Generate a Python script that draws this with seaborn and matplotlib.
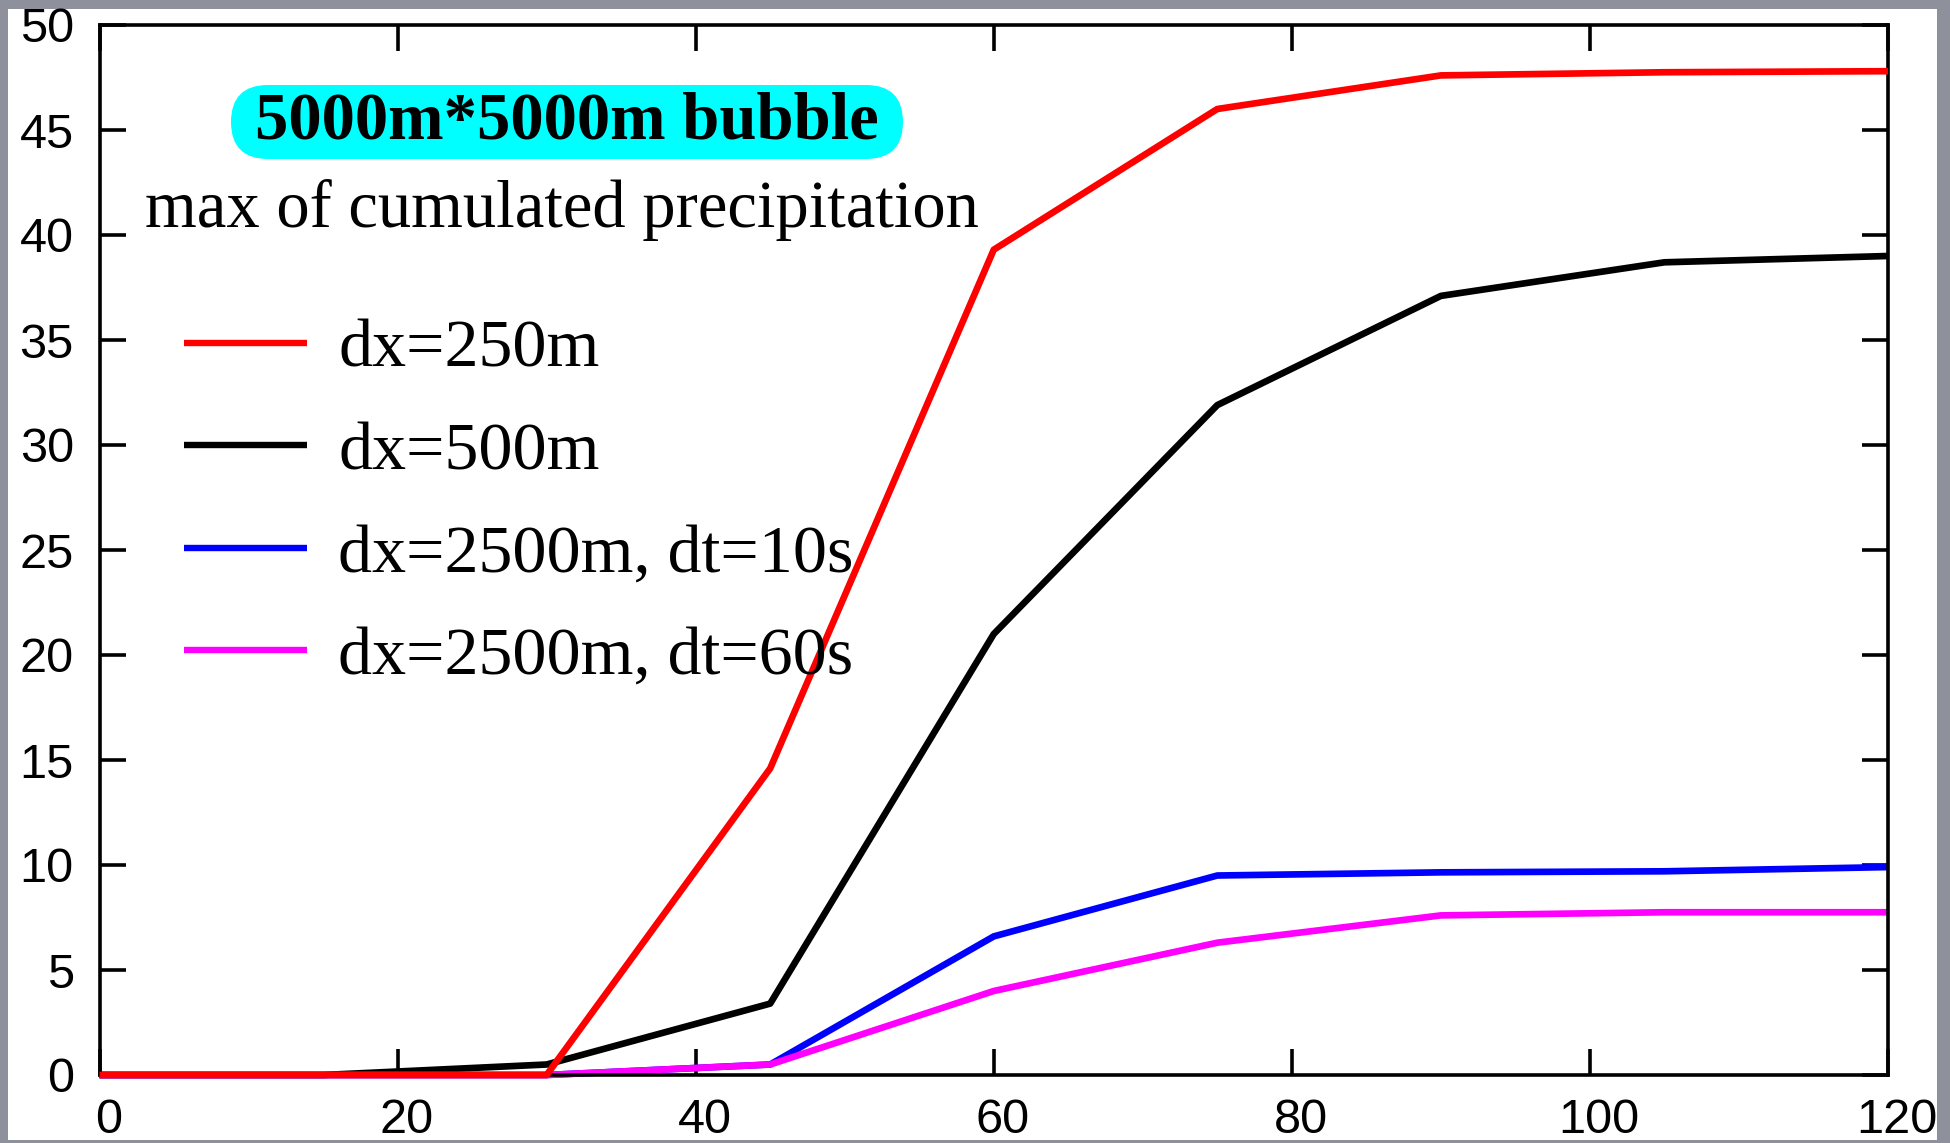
import matplotlib
matplotlib.use("Agg")
import matplotlib.pyplot as plt
from matplotlib.patches import FancyBboxPatch, Rectangle
from matplotlib.transforms import ScaledTranslation
import pandas as pd
import seaborn as sns

# time (minutes) and max of cumulated precipitation for each run
minutes = [0, 15, 30, 45, 60, 75, 90, 105, 120]
dx250 = [0, 0, 0, 14.6, 39.3, 46.0, 47.6, 47.75, 47.8]
dx500 = [0, 0, 0.5, 3.4, 21.0, 31.9, 37.1, 38.7, 39.0]
dx2500_dt10 = [0, 0, 0, 0.5, 6.6, 9.5, 9.65, 9.7, 9.9]
dx2500_dt60 = [0, 0, 0, 0.5, 4.0, 6.3, 7.6, 7.75, 7.75]

run_labels = ["dx=250m", "dx=500m", "dx=2500m, dt=10s", "dx=2500m, dt=60s"]
run_colors = ["#ff0000", "#000000", "#0000ff", "#ff00ff"]
x_ticks = list(range(0, 121, 20))
y_ticks = list(range(0, 51, 5))

W, H = 1950, 1143

# long form table for seaborn
frames = []
for label, values in zip(run_labels, [dx250, dx500, dx2500_dt10, dx2500_dt60]):
    frames.append(pd.DataFrame({"minutes": minutes, "precip": values, "run": label}))
df = pd.concat(frames, ignore_index=True)

sns.set_style("white")

fig = plt.figure(figsize=(W / 100, H / 100), dpi=100, facecolor="#8e919b")
# white sheet inside the grey screenshot border
fig.add_artist(Rectangle((8 / W, 3 / H), 1929 / W, 1131 / H, transform=fig.transFigure,
                         facecolor="white", edgecolor="none", zorder=-1))

ax = fig.add_axes([99.5 / W, 1 - 1075 / H, (1888 - 99.5) / W, (1075 - 25) / H])
ax.set_facecolor("white")

sns.lineplot(data=df, x="minutes", y="precip", hue="run", hue_order=run_labels,
             palette=run_colors, linewidth=4.8, ax=ax)

for line in ax.lines:
    line.set_clip_on(False)
    line.set_solid_capstyle("butt")
ax.lines[0].set_zorder(3)

ax.set_xlim(0, 120)
ax.set_ylim(0, 50)
ax.set_xticks(x_ticks)
ax.set_yticks(y_ticks)
ax.set_xlabel("")
ax.set_ylabel("")

for side in ["left", "right", "top", "bottom"]:
    ax.spines[side].set_visible(True)
    ax.spines[side].set_color("black")
    ax.spines[side].set_linewidth(2.6)

ax.tick_params(axis="both", direction="in", length=19, width=2.6, color="black",
               top=True, right=True, bottom=True, left=True,
               labelsize=35, labelfontfamily="Liberation Sans", labelcolor="black")
ax.tick_params(axis="y", pad=18.5)
ax.tick_params(axis="x", pad=16.5)

# x labels sit a little right of their ticks in the original
shift = ScaledTranslation(9 / 100, 0, fig.dpi_scale_trans)
for lab in ax.get_xticklabels():
    lab.set_transform(lab.get_transform() + shift)

handles, labels = ax.get_legend_handles_labels()
leg = ax.legend(handles, labels, loc="upper left",
                bbox_to_anchor=(184 / W, 1 - 319 / H), bbox_transform=fig.transFigure,
                frameon=False, borderpad=0, borderaxespad=0,
                prop={"family": "Liberation Serif", "size": 49}, labelcolor="black",
                handlelength=1.81, handletextpad=0.455, labelspacing=0.60)
for h in leg.get_lines():
    h.set_linewidth(4.6)

# cyan rounded title box
box = FancyBboxPatch((231 / W, 1 - 159 / H), 672 / W, 74 / H,
                     boxstyle="round,pad=0,rounding_size=%f" % (37 / W),
                     mutation_aspect=W / H, transform=fig.transFigure,
                     facecolor="#00ffff", edgecolor="none", zorder=5)
fig.add_artist(box)
fig.text(567 / W, 1 - 122 / H, "5000m*5000m bubble", ha="center", va="center",
         family="Liberation Serif", weight="bold", fontsize=48, color="black", zorder=6)

fig.text(145 / W, 1 - 227 / H, "max of cumulated precipitation", ha="left", va="baseline",
         family="Liberation Serif", fontsize=48, color="black", zorder=6)

fig.savefig("out.png", dpi=100, facecolor=fig.get_facecolor())
